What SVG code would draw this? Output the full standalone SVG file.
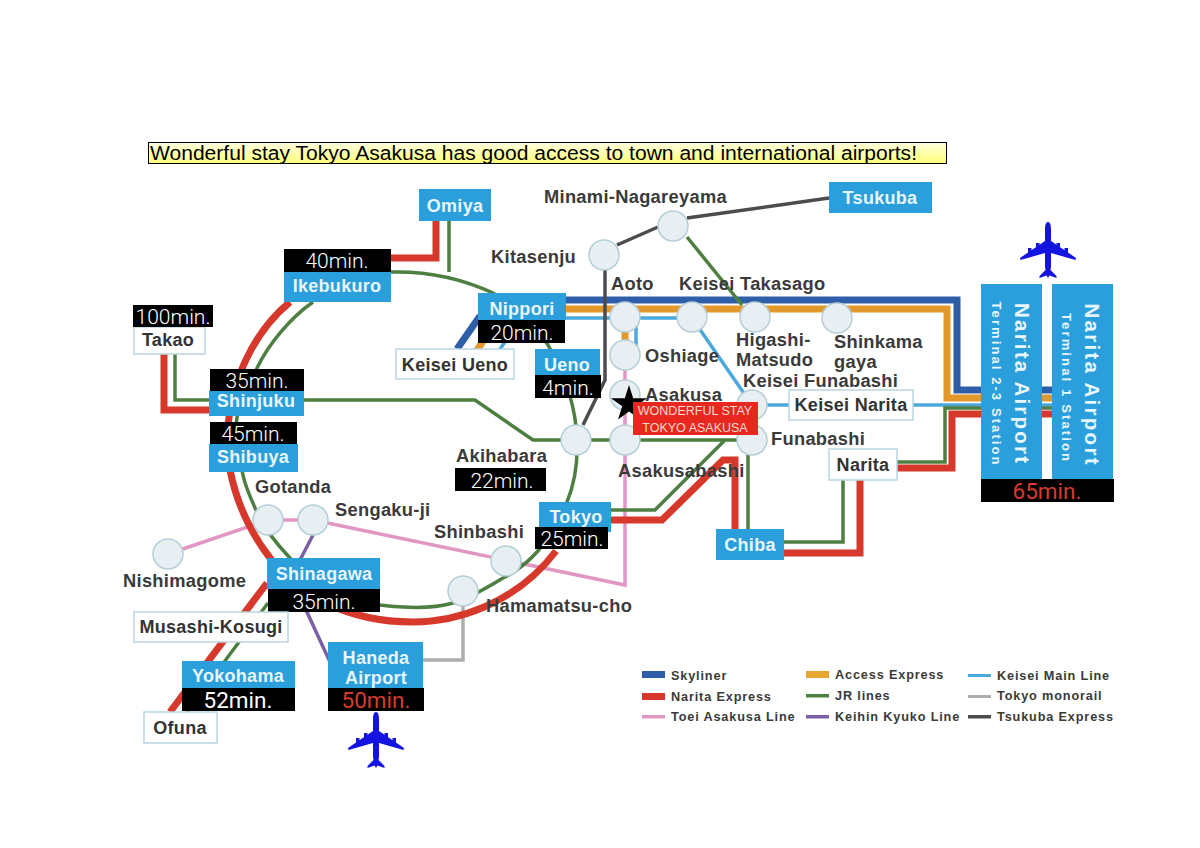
<svg xmlns="http://www.w3.org/2000/svg" xmlns:xlink="http://www.w3.org/1999/xlink" width="1200" height="848" viewBox="0 0 1200 848">
<style>
text{font-family:"Liberation Sans",Arial,sans-serif}
.l{fill:none;stroke-linejoin:miter}
.red{stroke:#d6392b;stroke-width:7}
.grn{stroke:#4d7f41;stroke-width:3.5}
.sky{stroke:#2f5ea8;stroke-width:7}
.org{stroke:#e2982a;stroke-width:7}
.kei{stroke:#4aa9da;stroke-width:3.5}
.pnk{stroke:#e196c4;stroke-width:3.5}
.pur{stroke:#7d5fa6;stroke-width:3.5}
.gry{stroke:#adadad;stroke-width:3.5}
.dk{stroke:#4b4b50;stroke-width:3.5}
.b{fill:#2a9fdb}
.w{fill:#fff;stroke:#b9d5df;stroke-width:1.5}
.k{fill:#000}
.c{fill:#e8eff2;stroke:#b6ced7;stroke-width:1.5}
.bt{fill:#e8f6fd;font-weight:700;font-size:18px;text-anchor:middle;letter-spacing:.3px}
.wt{fill:#333;font-weight:700;font-size:18px;text-anchor:middle;letter-spacing:.3px}
.s{fill:#3a3a3a;font-weight:700;font-size:18.300px;letter-spacing:.3px}
.t{fill:#fff;font-size:21px;text-anchor:middle;font-family:"Roboto","Liberation Sans",sans-serif;font-weight:300}
.t2{fill:#fff;font-size:22.500px;text-anchor:middle;font-family:"Roboto","Liberation Sans",sans-serif;font-weight:400}
.tr{fill:#d93a30;font-size:22.500px;text-anchor:middle;font-family:"Roboto","Liberation Sans",sans-serif;font-weight:400}
.lg{fill:#3a3a3a;font-weight:700;font-size:12.700px;letter-spacing:.85px}
.v{fill:#e8f6fd;font-weight:700;text-anchor:middle}
</style>
<defs>
<linearGradient id="ty" x1="0" y1="0" x2="0" y2="1"><stop offset="0" stop-color="#ffffe0"/><stop offset="1" stop-color="#ffff78"/></linearGradient>
<g id="plane" fill="#1414e0">
<path d="M0-28C2.500-28 3-24 3-20L3-9 28 8 27.500 10 3 3 3 17 2.500 20 8.500 26 8.500 28 1.500 25.500 0 28-1.500 25.500-8.500 28-8.500 26-2.500 20-3 17-3 3-27.500 10-28 8-3-9-3-20C-3-24-2.500-28 0-28Z"/>
<rect x="-12" y="-7" width="3.500" height="7"/><rect x="-20" y="-2" width="3.500" height="7"/>
<rect x="8.500" y="-7" width="3.500" height="7"/><rect x="16.500" y="-2" width="3.500" height="7"/>
</g>
</defs>
<rect width="1200" height="848" fill="#fff"/>

<g id="title">
<rect x="148.500" y="142.500" width="798" height="21" fill="url(#ty)" stroke="#000"/>
<text x="150" y="160" font-size="20" fill="#000" textLength="767" lengthAdjust="spacingAndGlyphs">Wonderful stay Tokyo Asakusa has good access to town and international airports!</text>
</g>

<g id="connectors">
<path class="l gry" d="M423 660H463V606"/>
<path class="l pnk" d="M168 554L268 520H313L625 585V355"/>
<path class="l pur" d="M313 535L300 560M306 610L330 662"/>
<path class="l sky" d="M457 349L480 316M493 300H957V390H1113"/>
<path class="l org" d="M476 352L490 330M497 309H947V398H1113M625 330V345"/>
<path class="l kei" d="M500 349L510 335M566 318H692L752 405H1113M636 318V355"/>
<path class="l grn" d="M449 221V272M391 272C430 271 465 280 493 293C515 305 535 325 548 345C565 375 576 405 577 440C578 465 574 485 567 502C560 520 550 538 537 552C528 562 515 572 503 578C490 586 470 598 453 603C435 608 418 608 403 607C395 607 388 606 380 605C340 596 310 580 290 558C275 542 262 525 256 510C250 497 245 485 243 475C238 455 235 440 236 425C238 405 245 390 257 368C268 345 290 318 313 302"/>
<path class="l grn" d="M175 354V400H475L533 440H752M748 440V529M784 542H843V480M897 462H945V408H1113M611 510H655L725 440M687 237L742 305M268 603L187 712"/>
<path class="l red" d="M436 221V258H391M290 302C262 325 235 365 228 425C226 450 228 465 230 470C236 500 250 532 270 558C295 592 345 622 413 622C455 622 515 605 556 551"/>
<path class="l red" d="M164 354V410H209M611 520H662L723 460H735V530M784 553H860V480M897 468H952V414H1113M267 583L170 712"/>
<path class="l dk" d="M829 198L687 218M658 227L617 245M605 270V380L583 425"/>
</g>

<g id="Omiya"><rect class="b" x="419" y="189" width="72" height="32"/><text class="bt" x="455" y="212">Omiya</text></g>
<g id="Ikebukuro"><rect class="b" x="284" y="272" width="107" height="30"/><text class="bt" x="337" y="292">Ikebukuro</text><rect class="k" x="284" y="249" width="107" height="23"/><text class="t" x="337" y="268">40min.</text></g>
<g id="Takao"><rect class="w" x="134" y="327" width="71" height="27"/><text class="wt" x="168" y="346">Takao</text><rect class="k" x="133" y="305" width="80" height="22"/><text class="t" x="173" y="324">100min.</text></g>
<g id="Shinjuku"><rect class="b" x="209" y="391" width="95" height="25"/><text class="bt" x="256" y="407">Shinjuku</text><rect class="k" x="210" y="369" width="94" height="22"/><text class="t" x="257" y="388">35min.</text></g>
<g id="Shibuya"><rect class="b" x="209" y="444" width="89" height="28"/><text class="bt" x="253" y="463">Shibuya</text><rect class="k" x="210" y="422" width="87" height="22"/><text class="t" x="253" y="441">45min.</text></g>
<g id="Nippori"><rect class="b" x="478" y="293" width="88" height="27"/><text class="bt" x="522" y="315">Nippori</text><rect class="k" x="478" y="320" width="87" height="23"/><text class="t" x="522" y="340">20min.</text></g>
<g id="KeiseiUeno"><rect class="w" x="396" y="349" width="118" height="30"/><text class="wt" x="455" y="371">Keisei Ueno</text></g>
<g id="Ueno"><rect class="b" x="535" y="349" width="65" height="26"/><text class="bt" x="567" y="371">Ueno</text><rect class="k" x="535" y="375" width="66" height="23"/><text class="t" x="568" y="395">4min.</text></g>
<g id="Tsukuba"><rect class="b" x="829" y="182" width="103" height="31"/><text class="bt" x="880" y="204">Tsukuba</text></g>
<g id="KeiseiNarita"><rect class="w" x="789" y="390" width="124" height="30"/><text class="wt" x="851" y="411">Keisei Narita</text></g>
<g id="Narita"><rect class="w" x="829" y="449" width="68" height="31"/><text class="wt" x="863" y="471">Narita</text></g>
<g id="Chiba"><rect class="b" x="716" y="529" width="68" height="31"/><text class="bt" x="750" y="551">Chiba</text></g>
<g id="Tokyo"><rect class="b" x="539" y="502" width="72" height="30"/><text class="bt" x="576" y="523">Tokyo</text><rect class="k" x="535" y="527" width="73" height="22"/><text class="t" x="572" y="546">25min.</text></g>
<g id="Akihabara-time"><rect class="k" x="455" y="468" width="91" height="23"/><text class="t" x="502" y="488">22min.</text></g>
<g id="Shinagawa"><rect class="b" x="267" y="558" width="113" height="31"/><text class="bt" x="324" y="580">Shinagawa</text><rect class="k" x="268" y="589" width="112" height="23"/><text class="t" x="324" y="609">35min.</text></g>
<g id="MusashiKosugi"><rect class="w" x="134" y="612" width="154" height="30"/><text class="wt" x="211" y="633">Musashi-Kosugi</text></g>
<g id="Yokohama"><rect class="b" x="182" y="661" width="113" height="27"/><text class="bt" x="238" y="682">Yokohama</text><rect class="k" x="182" y="688" width="113" height="23"/><text class="t2" x="238" y="708">52min.</text></g>
<g id="Haneda"><rect class="b" x="328" y="642" width="95" height="46"/><text class="bt" x="376" y="664">Haneda</text><text class="bt" x="376" y="684">Airport</text><rect class="k" x="328" y="688" width="96" height="23"/><text class="tr" x="376" y="708">50min.</text></g>
<g id="Ofuna"><rect class="w" x="144" y="712" width="73" height="31"/><text class="wt" x="180" y="734">Ofuna</text></g>

<g id="Kitasenju"><circle class="c" cx="604" cy="255" r="15"/><text class="s" x="491" y="263">Kitasenju</text></g>
<g id="MinamiNagareyama"><circle class="c" cx="673" cy="226" r="15"/><text class="s" x="544" y="203">Minami-Nagareyama</text></g>
<g id="Aoto"><circle class="c" cx="625" cy="317" r="15"/><text class="s" x="611" y="290">Aoto</text></g>
<g id="KeiseiTakasago"><circle class="c" cx="692" cy="317" r="15"/><text class="s" x="679" y="290">Keisei Takasago</text></g>
<g id="HigashiMatsudo"><circle class="c" cx="755" cy="317" r="15"/><text class="s" x="736" y="346">Higashi-</text><text class="s" x="736" y="366">Matsudo</text></g>
<g id="Shinkamagaya"><circle class="c" cx="837" cy="318" r="15"/><text class="s" x="834" y="348">Shinkama</text><text class="s" x="834" y="368">gaya</text></g>
<g id="Oshiage"><circle class="c" cx="625" cy="355" r="15"/><text class="s" x="645" y="362">Oshiage</text></g>
<g id="Asakusa"><circle class="c" cx="625" cy="395" r="15"/><text class="s" x="645" y="401">Asakusa</text></g>
<g id="KeiseiFunabashi"><circle class="c" cx="752" cy="405" r="15"/><text class="s" x="743" y="387">Keisei Funabashi</text></g>
<g id="Funabashi"><circle class="c" cx="752" cy="440" r="15"/><text class="s" x="771" y="445">Funabashi</text></g>
<g id="Akihabara"><circle class="c" cx="576" cy="440" r="15"/><text class="s" x="456" y="462">Akihabara</text></g>
<g id="Asakusabashi"><circle class="c" cx="625" cy="440" r="15"/><text class="s" x="618" y="477">Asakusabashi</text></g>
<g id="Gotanda"><circle class="c" cx="268" cy="520" r="15"/><text class="s" x="255" y="493">Gotanda</text></g>
<g id="Sengakuji"><circle class="c" cx="313" cy="520" r="15"/><text class="s" x="335" y="516">Sengaku-ji</text></g>
<g id="Nishimagome"><circle class="c" cx="168" cy="554" r="15"/><text class="s" x="123" y="587">Nishimagome</text></g>
<g id="Shinbashi"><circle class="c" cx="506" cy="561" r="15"/><text class="s" x="434" y="538">Shinbashi</text></g>
<g id="Hamamatsucho"><circle class="c" cx="463" cy="591" r="15"/><text class="s" x="486" y="612">Hamamatsu-cho</text></g>

<g id="Wonderful">
<polygon fill="#000" points="629,385 633.200,398.200 647,398.200 635.800,406.300 640,419.500 629,411.400 618,419.500 622.200,406.300 611,398.200 624.800,398.200"/>
<rect x="633" y="402" width="125" height="33" fill="#e8281e"/>
<text x="695" y="415" font-size="12.500" fill="#f8d8d2" text-anchor="middle">WONDERFUL STAY</text>
<text x="695" y="432" font-size="12.500" fill="#f8d8d2" text-anchor="middle">TOKYO ASAKUSA</text>
</g>

<g id="NaritaT23"><rect class="b" x="981" y="284" width="61" height="195"/>
<text class="v" font-size="20.500" transform="translate(1015 383) rotate(90)" textLength="160">Narita Airport</text>
<text class="v" font-size="13" transform="translate(992 383) rotate(90)" textLength="163">Terminal 2-3 Station</text></g>
<g id="NaritaT1"><rect class="b" x="1052" y="284" width="61" height="195"/>
<text class="v" font-size="20.500" transform="translate(1085 384) rotate(90)" textLength="161">Narita Airport</text>
<text class="v" font-size="13" transform="translate(1062 387) rotate(90)" textLength="148">Terminal 1 Station</text></g>
<g id="Narita-time"><rect class="k" x="981" y="479" width="133" height="23"/><text class="tr" x="1047" y="499">65min.</text></g>

<use xlink:href="#plane" href="#plane" x="1048" y="250"/>
<use xlink:href="#plane" href="#plane" x="376" y="740"/>

<g id="legend">
<rect x="642" y="671" width="23" height="7" fill="#2f5ea8"/><text class="lg" x="671" y="680">Skyliner</text>
<rect x="642" y="693" width="23" height="7" fill="#d6392b"/><text class="lg" x="671" y="701">Narita Express</text>
<rect x="642" y="715" width="23" height="3.500" fill="#e196c4"/><text class="lg" x="671" y="721">Toei Asakusa Line</text>
<rect x="806" y="671" width="23" height="7" fill="#e9a532"/><text class="lg" x="835" y="679">Access Express</text>
<rect x="806" y="694" width="23" height="3.500" fill="#4d7f41"/><text class="lg" x="835" y="700">JR lines</text>
<rect x="806" y="715" width="23" height="3.500" fill="#7d5fa6"/><text class="lg" x="835" y="721">Keihin Kyuko Line</text>
<rect x="968" y="674" width="23" height="3" fill="#4aa9da"/><text class="lg" x="997" y="680">Keisei Main Line</text>
<rect x="968" y="695" width="23" height="3" fill="#adadad"/><text class="lg" x="997" y="700">Tokyo monorail</text>
<rect x="968" y="715" width="23" height="3.500" fill="#4b4b50"/><text class="lg" x="997" y="721">Tsukuba Express</text>
</g>
</svg>
